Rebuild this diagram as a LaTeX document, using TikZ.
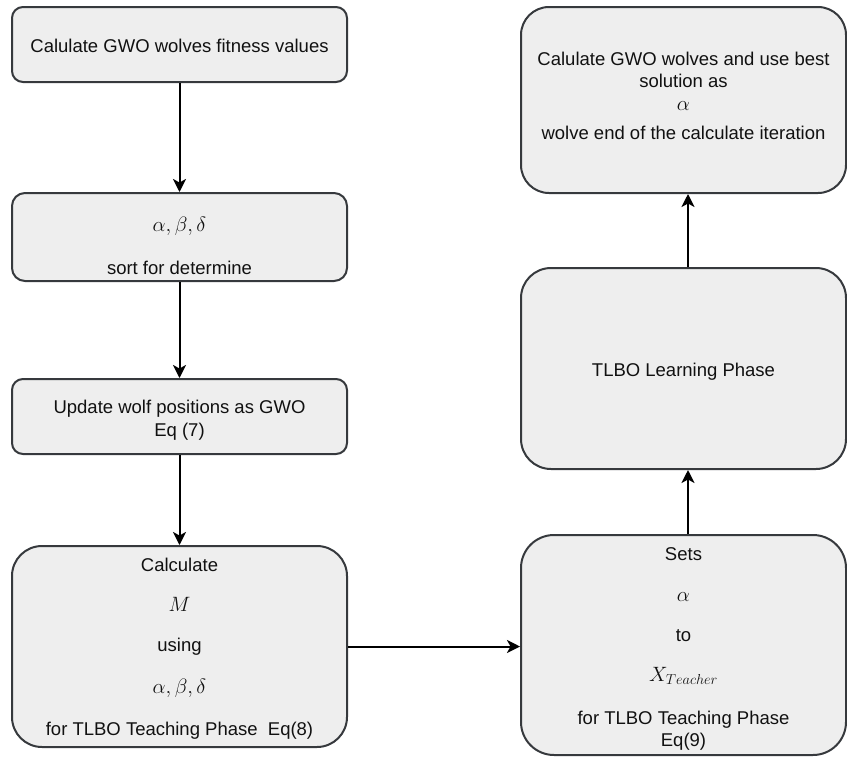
\documentclass[tikz,border=0pt]{standalone}
\usepackage{fontspec}
\setmainfont{Liberation Sans}
\usetikzlibrary{arrows.meta}
\definecolor{boxfill}{HTML}{EEEEEE}
\definecolor{boxline}{HTML}{36393D}
\definecolor{txtcol}{HTML}{111111}
\begin{document}
\begin{tikzpicture}[x=1pt,y=-1pt,
  box/.style={draw=boxline, fill=boxfill, line width=2pt, inner sep=0pt},
  txt/.style={inner sep=0pt, text height=13.2pt, text depth=0pt, text=txtcol, font=\fontsize{18.5}{22}\selectfont},
  mth/.style={inner sep=0pt, text height=9.3pt, text depth=0pt, text=txtcol, font=\fontsize{22}{26}\selectfont},
  arr/.style={line width=2pt, draw=black, -{Stealth[length=13pt,width=13pt,inset=3.5pt]}}]
\useasboundingbox (0,0) rectangle (847,756);
% left column
\node[box, rounded corners=11pt, minimum width=335pt, minimum height=75pt] (b1) at (179.5,44.5) {};
\node[box, rounded corners=13pt, minimum width=335pt, minimum height=88pt] (b2) at (179.5,237) {};
\node[box, rounded corners=11pt, minimum width=335pt, minimum height=75pt] (b3) at (179.5,416.5) {};
\node[box, rounded corners=30pt, minimum width=335pt, minimum height=201pt] (b4) at (179.5,646.5) {};
% right column
\node[box, rounded corners=33pt, minimum width=325pt, minimum height=220pt] (b5) at (683.5,645) {};
\node[box, rounded corners=30pt, minimum width=325pt, minimum height=201pt] (b6) at (683.5,368.5) {};
\node[box, rounded corners=28pt, minimum width=325pt, minimum height=186pt] (b7) at (683.5,100) {};
% texts
\node[txt] (t1) at (179.5,46) {Calulate GWO wolves fitness values};
\node[mth] (t2a) at (179.5,227) {$\alpha,\beta,\delta$};
\node[txt] (t2b) at (179.5,268) {sort for determine};
\node[txt] (t3a) at (179.5,407) {Update wolf positions as GWO};
\node[txt] (t3b) at (179.5,430) {Eq (7)};
\node[txt] (t4a) at (179.5,565) {Calculate};
\node[mth] (t4b) at (179.5,607) {$M$};
\node[txt] (t4c) at (179.5,645) {using};
\node[mth] (t4d) at (179.5,689) {$\alpha,\beta,\delta$};
\node[txt] (t4e) at (179.5,729) {for TLBO Teaching Phase\ \ Eq(8)};
\node[txt] (t5a) at (683.5,554) {Sets};
\node[mth] (t5b) at (683.5,597) {$\alpha$};
\node[txt] (t5c) at (683.5,635) {to};
\node[mth] (t5d) at (683.5,677) {$X_{Teacher}$};
\node[txt] (t5e) at (683.5,718) {for TLBO Teaching Phase};
\node[txt] (t5f) at (683.5,740) {Eq(9)};
\node[txt] (t6) at (683.5,370) {TLBO Learning Phase};
\node[txt] (t7a) at (683.5,59) {Calulate GWO wolves and use best};
\node[txt] (t7b) at (683.5,81) {solution as};
\node[mth] (t7c) at (683.5,105.5) {$\alpha$};
\node[txt] (t7d) at (683.5,133) {wolve end of the calculate iteration};
% connectors
\draw[arr] (b1.south) -- (b2.north);
\draw[arr] (b2.south) -- (b3.north);
\draw[arr] (b3.south) -- (b4.north);
\draw[arr] (b4.east) -- (b4.east -| b5.west);
\draw[arr] ([xshift=4.5pt]b5.north) -- ([xshift=4.5pt]b6.south);
\draw[arr] ([xshift=4.5pt]b6.north) -- ([xshift=4.5pt]b7.south);
\end{tikzpicture}
\end{document}
